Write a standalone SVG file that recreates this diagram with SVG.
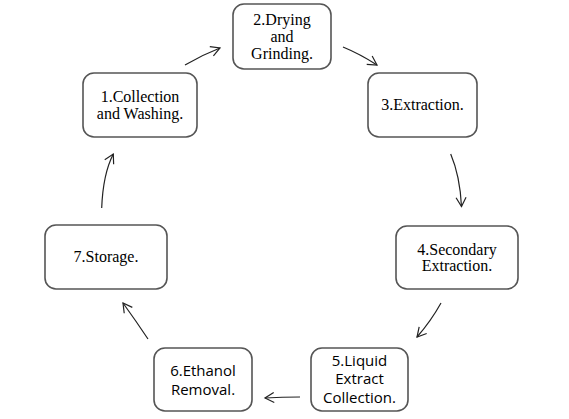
<svg xmlns="http://www.w3.org/2000/svg" width="569" height="419" viewBox="0 0 569 419">
<style>
.box{fill:#fff;stroke:#555;stroke-width:1.6}
.serif{font-family:"Liberation Serif","Times New Roman",serif;font-size:16px;fill:#000;text-anchor:middle}
.sans{font-family:"Open Sans","Noto Sans",sans-serif;font-size:15px;fill:#000;text-anchor:middle}
.conn{fill:none;stroke:#222;stroke-width:1.2;marker-end:url(#ah)}
</style>
<defs>
<marker id="ah" viewBox="-11 -7 13 14" refX="0" refY="0" markerWidth="13" markerHeight="14" markerUnits="userSpaceOnUse" orient="auto">
<path d="M-9,-5 L0,0 L-9,5" fill="none" stroke="#222" stroke-width="1.2"/>
</marker>
</defs>
<rect width="569" height="419" fill="#fff"/>
<g id="node1">
<rect class="box" x="83" y="73" width="114" height="64" rx="11"/>
<text class="serif" x="140" y="102">1.Collection</text>
<text class="serif" x="140" y="119">and Washing.</text>
</g>
<g id="node2">
<rect class="box" x="233" y="4" width="98" height="65" rx="11"/>
<text class="serif" x="282" y="25">2.Drying</text>
<text class="serif" x="282" y="42">and</text>
<text class="serif" x="282" y="59">Grinding.</text>
</g>
<g id="node3">
<rect class="box" x="368" y="73" width="109" height="64" rx="11"/>
<text class="serif" x="422.5" y="110">3.Extraction.</text>
</g>
<g id="node4">
<rect class="box" x="396" y="226" width="122" height="63" rx="11"/>
<text class="serif" x="457" y="255">4.Secondary</text>
<text class="serif" x="457" y="271">Extraction.</text>
</g>
<g id="node5">
<rect class="box" x="311" y="348" width="97" height="63" rx="11"/>
<text class="sans" x="359.5" y="365.5">5.Liquid</text>
<text class="sans" x="359.5" y="384">Extract</text>
<text class="sans" x="359.5" y="402.5">Collection.</text>
</g>
<g id="node6">
<rect class="box" x="154" y="348" width="98" height="63" rx="11"/>
<text class="sans" x="203" y="376">6.Ethanol</text>
<text class="sans" x="203" y="395">Removal.</text>
</g>
<g id="node7">
<rect class="box" x="45" y="225" width="122" height="64" rx="11"/>
<text class="serif" x="106" y="262">7.Storage.</text>
</g>
<g id="connectors">
<path class="conn" d="M185,65 Q202,55 220,48"/>
<path class="conn" d="M343,47 Q360,54 377,65"/>
<path class="conn" d="M450.7,154 Q460,176 461.5,206.5"/>
<path class="conn" d="M441,303 Q431,321 417,337"/>
<path class="conn" d="M300,397 Q282,397 265,398"/>
<path class="conn" d="M148,339 Q136,321 123,303"/>
<path class="conn" d="M101.7,208 Q103,174 113.3,154"/>
</g>
</svg>
